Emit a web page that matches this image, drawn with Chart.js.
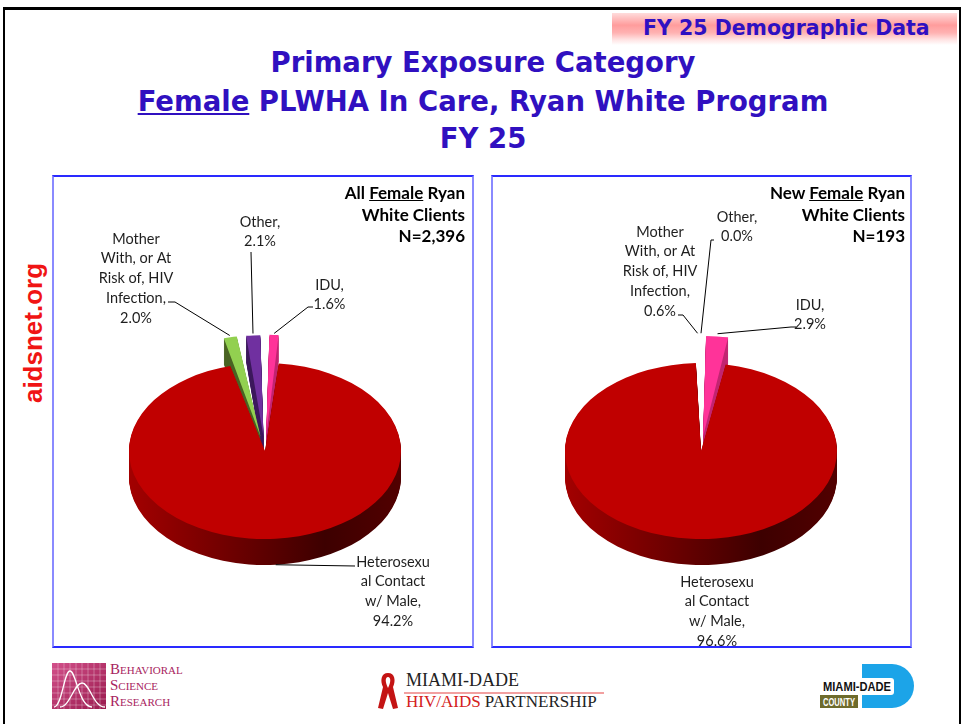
<!DOCTYPE html>
<html lang="en">
<head>
<meta charset="UTF-8">
<title>Primary Exposure Category - Female PLWHA FY 25</title>
<script src="https://cdn.jsdelivr.net/npm/chart.js"></script>
<style>
  body { margin: 0; width: 962px; height: 724px; position: relative; overflow: hidden; background: #fff; }
  #frame { position: absolute; left: 3px; top: 7px; width: 954px; height: 760px;
           border-top: 3px solid #000; border-left: 2px solid #000; border-right: 2px solid #000; }
  #badge { position: absolute; left: 612px; top: 13px; width: 345px; height: 32px;
           background: linear-gradient(to bottom, #ffdcdc 0%, #ff9c9c 38%, #ffb2b2 62%, #ffe4e4 84%, #fff 100%); }
  #badge span { position: absolute; left: 31px; top: 3px; font: bold 20.5px 'DejaVu Sans'; color: #2f10c2; white-space: nowrap; }
  .title { position: absolute; left: 0; width: 966px; text-align: center; font: bold 27.5px 'DejaVu Sans';
           line-height: 32px; color: #3010c0; white-space: nowrap; }
  #site { position: absolute; left: 33px; top: 333px; transform: translate(-50%, -50%) rotate(-90deg);
          font: bold 26px 'Liberation Sans'; color: #f01414; white-space: nowrap; }
  .panel { position: absolute; top: 175px; height: 473px; box-sizing: border-box;
           border: 2px solid #2a2aff; border-left-color: #8a8aff; border-right-color: #8a8aff; }
  canvas { position: absolute; top: 175px; }
  .head { position: absolute; top: 182px; text-align: right; font: bold 17px Lato; line-height: 21.5px; color: #000; }
  .logo-txt { position: absolute; white-space: nowrap; }
</style>
</head>
<body>
<div id="frame"></div>
<div id="badge"><span>FY 25 Demographic Data</span></div>
<div class="title" style="top:46px">Primary Exposure Category</div>
<div class="title" style="top:85px"><u>Female</u> PLWHA In Care, Ryan White Program</div>
<div class="title" style="top:122px">FY 25</div>
<div id="site">aidsnet.org</div>

<div class="panel" style="left:52px; width:422px"></div>
<div class="panel" style="left:491px; width:421px"></div>
<canvas id="allChart" width="422" height="473" style="left:52px"></canvas>
<canvas id="newChart" width="421" height="473" style="left:491px"></canvas>
<div class="head" style="right:497px">All <u>Female</u> Ryan<br>White Clients<br>N=2,396</div>
<div class="head" style="right:57px">New <u>Female</u> Ryan<br>White Clients<br>N=193</div>

<!-- footer logos -->
<svg style="position:absolute; left:52px; top:663px" width="54" height="46">
  <defs><linearGradient id="bsr" x1="0" y1="0" x2="1" y2="1">
    <stop offset="0" stop-color="#d2508a"/><stop offset="1" stop-color="#9a1a4e"/></linearGradient></defs>
  <rect width="54" height="46" fill="url(#bsr)"/>
  <path d="M6 0V46M12 0V46M18 0V46M24 0V46M30 0V46M36 0V46M42 0V46M48 0V46M0 6H54M0 12H54M0 18H54M0 24H54M0 30H54M0 36H54M0 42H54"
        stroke="rgba(255,255,255,0.3)" stroke-width="1"/>
  <path d="M2 44C10 44 12 8 18 8C24 8 27 44 40 44" stroke="#fff" stroke-width="1.3" fill="none"/>
  <path d="M8 44C18 44 22 20 30 20C38 20 41 44 53 44" stroke="#fff" stroke-width="1.3" fill="none"/>
</svg>
<div class="logo-txt" style="left:110px; top:661px; font:15px 'Liberation Serif'; font-variant:small-caps; line-height:16px; color:#a8245e">
  Behavioral<br>Science<br>Research</div>

<svg style="position:absolute; left:377px; top:671px" width="22" height="40">
  <path d="M11 2C4 2 3 10 6 16L1 37L6 38L11 22L16 38L21 37L16 16C19 10 18 2 11 2ZM11 6C14 6 14 11 11 17C8 11 8 6 11 6Z" fill="#c41414"/>
</svg>
<div class="logo-txt" style="left:406px; top:670px; font:18px 'Liberation Serif'; color:#222">MIAMI-DADE</div>
<div style="position:absolute; left:404px; top:692px; width:200px; height:2px; background:#f2a0a0"></div>
<div class="logo-txt" style="left:406px; top:692px; font:17px 'Liberation Serif'; color:#222"><span style="color:#d42020">HIV/AIDS</span> PARTNERSHIP</div>

<svg style="position:absolute; left:820px; top:664px" width="96" height="44">
  <path d="M42 0H72A22 22 0 0 1 72 44H42Z" fill="#1ca4e8"/>
  <rect x="0" y="14" width="74" height="17" rx="3" fill="#fff"/>
  <text x="3" y="27" textLength="68" lengthAdjust="spacingAndGlyphs" font-family="Liberation Sans" font-weight="bold" font-size="12" fill="#111">MIAMI-DADE</text>
  <rect x="0" y="31" width="38" height="13" fill="#6e6b2c"/>
  <text x="3" y="41.5" textLength="32" lengthAdjust="spacingAndGlyphs" font-family="Liberation Sans" font-weight="bold" font-size="10" fill="#fff">COUNTY</text>
</svg>

<script>
// data
const categories = ['IDU', 'Heterosexual Contact w/ Male', 'Mother With, or At Risk of, HIV Infection', 'Other'];
const labelWraps = [['IDU,'], ['Heterosexu', 'al Contact', 'w/ Male,'], ['Mother', 'With, or At', 'Risk of, HIV', 'Infection,'], ['Other,']];
const allFemalePct = [1.6, 94.2, 2.0, 2.1];   // N=2,396
const newFemalePct = [2.9, 96.6, 0.6, 0.0];   // N=193

const topColors  = ['#ff3399', '#c00000', '#92d050', '#7030a0'];
const sideColors = ['#c22672', ['#a30000', '#3d0000', '#520000'], '#4a6424', '#3e1a5e'];
const explode = [92, 0, 92, 92];

const TILT = 0.647;   // vertical squash of the pie
const DEPTH = 26;     // thickness of the pie in px
const LINE_H = 19.8;

function drawGhost(ctx, arc, color) {
  const ghost = Object.create(arc);
  ghost.options = Object.assign({}, arc.options, { backgroundColor: color, borderWidth: 0 });
  ghost.draw(ctx);
}

const pie3d = {
  id: 'pie3d',
  beforeDatasetsDraw(chart) {
    const ctx = chart.ctx;
    const arcs = chart.getDatasetMeta(0).data;
    const cx = arcs[0].x, cy = arcs[0].y, R = arcs[0].outerRadius;
    const fills = sideColors.map(c => {
      if (typeof c === 'string') return c;
      const g = ctx.createLinearGradient(cx - R, 0, cx + R, 0);
      g.addColorStop(0, c[0]); g.addColorStop(0.72, c[1]); g.addColorStop(1, c[2]);
      return g;
    });
    // side walls first, deepest layer first
    for (let d = DEPTH; d >= 1; d--) {
      ctx.save();
      ctx.translate(cx, cy + d);
      ctx.scale(1, TILT);
      ctx.translate(-cx, -cy);
      arcs.forEach((arc, i) => drawGhost(ctx, arc, fills[i]));
      ctx.restore();
    }
    // top faces
    ctx.save();
    ctx.translate(cx, cy);
    ctx.scale(1, TILT);
    ctx.translate(-cx, -cy);
    arcs.forEach(arc => arc.draw(ctx));
    ctx.restore();
    return false;
  },
  afterDraw(chart, args, opts) {
    const ctx = chart.ctx;
    const arcs = chart.getDatasetMeta(0).data;
    const values = chart.data.datasets[0].data;
    const cx = arcs[0].x, cy = arcs[0].y, R = arcs[0].outerRadius;
    ctx.save();
    ctx.font = '14.5px Lato';
    ctx.fillStyle = '#1e1e1e';
    ctx.strokeStyle = '#000';
    ctx.lineWidth = 1;
    ctx.textAlign = 'center';
    ctx.textBaseline = 'middle';
    opts.labels.forEach((lab, i) => {
      const lines = labelWraps[i].concat([values[i].toFixed(1) + '%']);
      lines.forEach((t, j) => ctx.fillText(t, lab.x, lab.y + j * LINE_H));
      if (!lab.leader) return;
      const arc = arcs[i];
      const a = (arc.startAngle + arc.endAngle) / 2;
      let ax, ay;
      if (lab.leader === 'top') {
        const r = arc.outerRadius + (arc.options.offset || 0) / 2;
        ax = cx + Math.cos(a) * r;
        ay = cy + Math.sin(a) * r * TILT;
      } else {
        ax = cx + Math.cos(a) * R;
        ay = cy + Math.sin(a) * R * TILT + DEPTH;
      }
      ctx.beginPath();
      ctx.moveTo(lab.attach[0][0], lab.attach[0][1]);
      lab.attach.slice(1).forEach(p => ctx.lineTo(p[0], p[1]));
      ctx.lineTo(ax, ay);
      ctx.stroke();
    });
    ctx.restore();
  }
};

function makePie(id, values, padding, labels) {
  return new Chart(document.getElementById(id), {
    type: 'pie',
    data: {
      labels: categories,
      datasets: [{
        data: values,
        backgroundColor: topColors,
        borderWidth: 0,
        offset: explode
      }]
    },
    options: {
      responsive: false,
      animation: false,
      events: [],
      radius: 136,
      layout: { padding: padding },
      plugins: {
        legend: { display: false },
        tooltip: { enabled: false },
        pie3d: { labels: labels }
      }
    },
    plugins: [pie3d]
  });
}

makePie('allChart', allFemalePct, { left: 4, right: 0, top: 79, bottom: 0 }, [
  { x: 277.5, y: 110, leader: 'top', attach: [[261, 132], [256, 132]] },
  { x: 341, y: 387, leader: 'bottom', attach: [[303, 391]] },
  { x: 84, y: 64, leader: 'top', attach: [[116, 127], [123, 127]] },
  { x: 208, y: 47, leader: 'top', attach: [[199, 77]] }
]);

makePie('newChart', newFemalePct, { left: 0, right: 1, top: 79, bottom: 0 }, [
  { x: 319, y: 130, leader: 'top', attach: [[305, 152], [300, 152]] },
  { x: 226, y: 407 },
  { x: 169, y: 57, leader: 'top', attach: [[187, 140], [192, 140]] },
  { x: 246, y: 42, leader: 'top', attach: [[223, 65], [220, 65]] }
]);
</script>
</body>
</html>
